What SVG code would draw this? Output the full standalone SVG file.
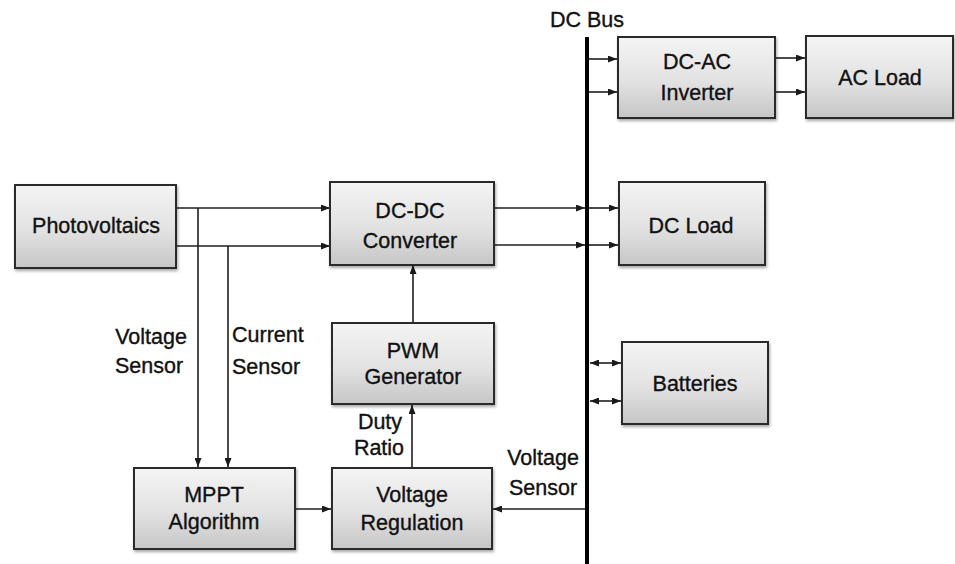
<svg xmlns="http://www.w3.org/2000/svg" width="955" height="564" viewBox="0 0 955 564">
<defs>
<linearGradient id="g" x1="0" y1="0" x2="0" y2="1">
<stop offset="0" stop-color="#f4f4f4"/>
<stop offset="0.55" stop-color="#e2e2e2"/>
<stop offset="1" stop-color="#c6c6c6"/>
</linearGradient>
<filter id="sh" x="-10%" y="-10%" width="120%" height="130%">
<feDropShadow dx="1" dy="2" stdDeviation="1.5" flood-color="#000" flood-opacity="0.35"/>
</filter>
<marker id="ah" viewBox="0 0 9 7" markerWidth="9" markerHeight="7" refX="9" refY="3.5" orient="auto-start-reverse" markerUnits="userSpaceOnUse">
<path d="M0,0 L9,3.5 L0,7 z" fill="#1a1a1a"/>
</marker>
</defs>
<style>
.box{fill:url(#g);stroke:#2b2b2b;stroke-width:2;filter:url(#sh)}
.t,.l{font-family:"Liberation Sans",Arial,sans-serif;font-size:21.5px;fill:#111;stroke:#111;stroke-width:0.35}
.t{text-anchor:middle}
.c{stroke:#1f1f1f;stroke-width:1.6;fill:none}
.a{marker-end:url(#ah)}
.b{marker-start:url(#ah);marker-end:url(#ah)}
</style>
<rect width="955" height="564" fill="#fff"/>

<g id="connectors">
<line class="c a" x1="176" y1="208" x2="330" y2="208"/>
<line class="c a" x1="176" y1="246" x2="330" y2="246"/>
<line class="c a" x1="198" y1="208" x2="198" y2="467"/>
<line class="c a" x1="228" y1="246" x2="228" y2="467"/>
<line class="c a" x1="494" y1="208" x2="585" y2="208"/>
<line class="c a" x1="589" y1="208" x2="618" y2="208"/>
<line class="c a" x1="494" y1="245" x2="585" y2="245"/>
<line class="c a" x1="589" y1="245" x2="618" y2="245"/>
<line class="c a" x1="589" y1="59" x2="617" y2="59"/>
<line class="c a" x1="589" y1="92" x2="617" y2="92"/>
<line class="c a" x1="775" y1="58" x2="805" y2="58"/>
<line class="c a" x1="775" y1="92" x2="805" y2="92"/>
<line class="c b" x1="590" y1="363" x2="621" y2="363"/>
<line class="c b" x1="590" y1="401" x2="621" y2="401"/>
<line class="c a" x1="413" y1="323" x2="413" y2="265"/>
<line class="c a" x1="412" y1="468" x2="412" y2="405"/>
<line class="c a" x1="295" y1="509" x2="331" y2="509"/>
<line class="c a" x1="587" y1="509" x2="493" y2="509"/>
</g>

<g id="dc-bus">
<line x1="587" y1="37" x2="587" y2="564" stroke="#000" stroke-width="4"/>
<text class="t" x="587" y="27">DC Bus</text>
</g>

<g id="photovoltaics">
<rect class="box" x="15" y="185" width="161" height="83"/>
<text class="t" x="96" y="233">Photovoltaics</text>
</g>

<g id="dc-dc-converter">
<rect class="box" x="330" y="182" width="164" height="83"/>
<text class="t" x="410" y="218">DC-DC</text>
<text class="t" x="410" y="248">Converter</text>
</g>

<g id="pwm-generator">
<rect class="box" x="332" y="323" width="162" height="81"/>
<text class="t" x="413" y="358">PWM</text>
<text class="t" x="413" y="384">Generator</text>
</g>

<g id="mppt-algorithm">
<rect class="box" x="134" y="468" width="161" height="81"/>
<text class="t" x="214" y="502">MPPT</text>
<text class="t" x="214" y="529">Algorithm</text>
</g>

<g id="voltage-regulation">
<rect class="box" x="332" y="468" width="160" height="81"/>
<text class="t" x="412" y="502">Voltage</text>
<text class="t" x="412" y="530">Regulation</text>
</g>

<g id="dc-ac-inverter">
<rect class="box" x="618" y="37" width="157" height="81"/>
<text class="t" x="697" y="69">DC-AC</text>
<text class="t" x="697" y="100">Inverter</text>
</g>

<g id="ac-load">
<rect class="box" x="806" y="36" width="147" height="82"/>
<text class="t" x="880" y="85">AC Load</text>
</g>

<g id="dc-load">
<rect class="box" x="619" y="182" width="146" height="83"/>
<text class="t" x="691" y="233">DC Load</text>
</g>

<g id="batteries">
<rect class="box" x="622" y="342" width="146" height="82"/>
<text class="t" x="695" y="391">Batteries</text>
</g>

<g id="labels">
<text class="t" x="151" y="344">Voltage</text>
<text class="t" x="149" y="373">Sensor</text>
<text class="l" x="232" y="342">Current</text>
<text class="l" x="232" y="374">Sensor</text>
<text class="t" x="380" y="429">Duty</text>
<text class="t" x="379" y="455">Ratio</text>
<text class="t" x="543" y="465">Voltage</text>
<text class="t" x="543" y="495">Sensor</text>
</g>
</svg>
